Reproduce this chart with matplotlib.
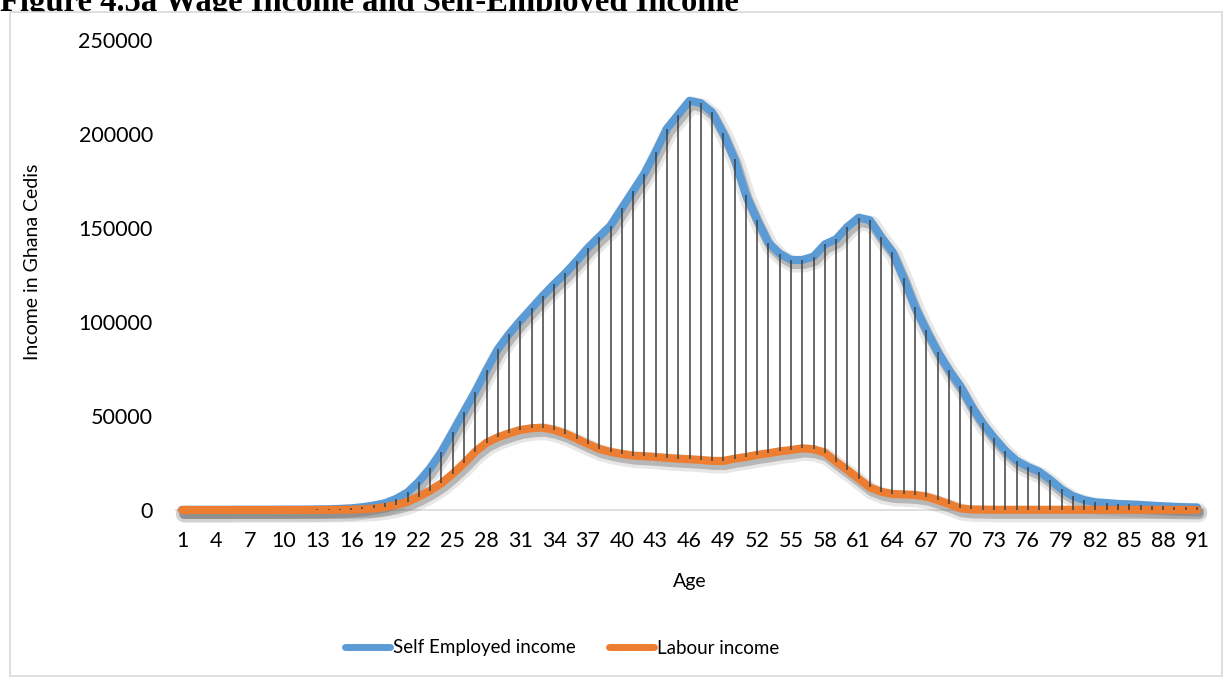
import matplotlib
matplotlib.use("Agg")
import matplotlib.pyplot as plt
import matplotlib.patheffects as pe
from matplotlib.patches import Rectangle
from matplotlib.lines import Line2D
import numpy as np

ages = list(range(1, 92))

# income by age, Ghana Cedis
self_employed = [
    100, 100, 100, 100, 100, 150, 150, 150, 150, 200,
    200, 250, 300, 400, 600, 900, 1500, 2400, 3600, 6000,
    9400, 15100, 22200, 30900, 41500, 52300, 62900, 74500, 85500, 93600,
    100700, 107300, 114000, 120200, 126000, 132500, 139500, 145400, 151300, 160500,
    169700, 178900, 190500, 202900, 210300, 217700, 216400, 211600, 200400, 186600,
    167700, 154300, 142200, 136400, 133000, 133000, 134800, 141300, 144000, 150600,
    155500, 154100, 145200, 137300, 123300, 108000, 95600, 84200, 74500, 66000,
    55300, 46100, 38500, 31600, 26200, 23000, 20400, 16000, 11000, 7400,
    5300, 4100, 3700, 3200, 3000, 2700, 2300, 2000, 1700, 1500,
    1400,
]
labour = [
    0, 0, 0, 0, 0, 0, 0, 0, 0, 0,
    0, 0, 0, 50, 100, 200, 400, 800, 1500, 2700,
    4400, 7100, 10300, 14200, 19200, 24800, 31000, 35800, 38700, 40800,
    42600, 43500, 43800, 42600, 40600, 37900, 35100, 32500, 30900, 29800,
    28900, 28600, 28200, 27700, 27300, 27000, 26600, 26100, 26100, 27300,
    28200, 29300, 30200, 31200, 31900, 32800, 32300, 30500, 25700, 21300,
    16700, 12000, 9700, 8500, 8300, 8000, 7100, 5300, 3200, 900,
    300, 200, 100, 100, 100, 100, 100, 100, 100, 100,
    100, 100, 100, 100, 100, 100, 100, 100, 100, 100,
    100,
]
x_labels = [str(a) for a in ages[::3]]
y_ticks = [0, 50000, 100000, 150000, 200000, 250000]

BLUE = "#5b9bd5"
ORANGE = "#ed7d31"
font = ["Lato", "DejaVu Sans"]
plt.rcParams["font.family"] = font

W, H = 1225, 677
fig = plt.figure(figsize=(W / 100, H / 100), dpi=100)

# title sits behind the chart frame, like in the report
fig.text(0.0, 1 - 11 / H, "Figure 4.5a Wage Income and Self-Employed Income",
         family="Liberation Serif", weight="bold", fontsize=23.5,
         ha="left", va="baseline", zorder=-3)
fig.patches.append(Rectangle((10 / W, 1 / H), 1212 / W, (H - 13) / H,
                             transform=fig.transFigure, facecolor="white",
                             edgecolor="#d9d9d9", linewidth=1.2, zorder=-2))

ax = fig.add_axes([176.4 / W, 1 - 510 / H, 1026.2 / W, 470 / H])
ax.patch.set_alpha(0)

shadow = [pe.SimpleLineShadow(offset=(1.5, -3), shadow_color="#606060", alpha=0.15, linewidth=12),
          pe.SimpleLineShadow(offset=(1.5, -3), shadow_color="#606060", alpha=0.35, linewidth=7),
          pe.Normal()]

ax.plot(ages, self_employed, color=BLUE, lw=5.8, solid_capstyle="round",
        solid_joinstyle="round", clip_on=False, path_effects=shadow, zorder=2)
ax.plot(ages, labour, color=ORANGE, lw=5.8, solid_capstyle="round",
        solid_joinstyle="round", clip_on=False, path_effects=shadow, zorder=3)
# high-low lines between the two series
ax.vlines(ages, labour, self_employed, color="#404040", lw=1.1, zorder=4)

ax.set_xlim(0.5, 91.5)
ax.set_ylim(0, 250000)
ax.set_xticks(ages[::3])
ax.set_xticklabels(x_labels)
ax.set_yticks(y_ticks)
ax.set_yticklabels([str(v) for v in y_ticks])
ax.tick_params(axis="both", length=0, labelsize=15.5, colors="#000000")
ax.tick_params(axis="x", pad=15)
ax.tick_params(axis="y", pad=17)

for side in ["top", "right", "left"]:
    ax.spines[side].set_visible(False)
ax.spines["bottom"].set_color("#d9d9d9")
ax.spines["bottom"].set_linewidth(1.2)
ax.spines["bottom"].set_zorder(1)

fig.text(690 / W, 1 - 581 / H, "Age", ha="center", va="center", fontsize=14)
fig.text(33 / W, 1 - 262 / H, "Income in Ghana Cedis", ha="center", va="center",
         rotation=90, fontsize=14)

handles = [Line2D([], [], color=BLUE, lw=5, solid_capstyle="round"),
           Line2D([], [], color=ORANGE, lw=5, solid_capstyle="round")]
fig.legend(handles, ["Self Employed income", "Labour income"],
           loc="center", bbox_to_anchor=(562 / W, 1 - 648 / H), ncol=2,
           frameon=False, fontsize=13.5, handlelength=2.4, handletextpad=0.15,
           columnspacing=1.8)

fig.savefig("out.png", dpi=100)
